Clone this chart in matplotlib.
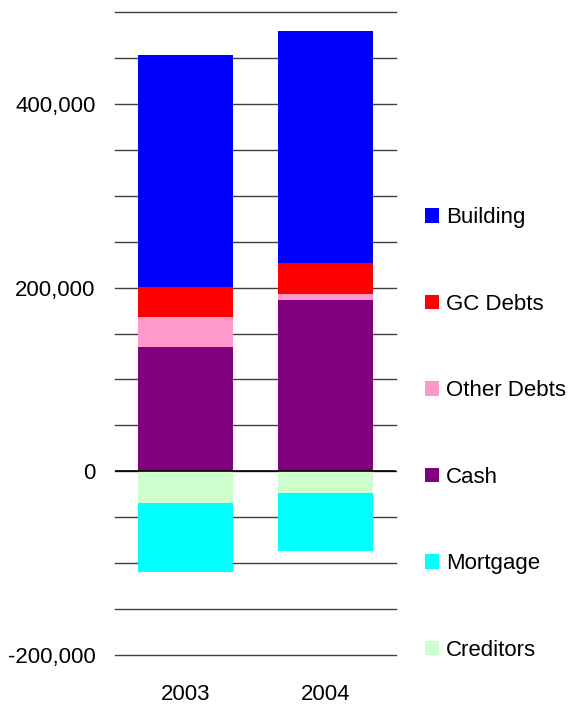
import matplotlib
matplotlib.use('Agg')
import matplotlib.pyplot as plt
import matplotlib.ticker as ticker
import numpy as np

plt.rcParams['font.family'] = ['Liberation Sans', 'DejaVu Sans']

years = ['2003', '2004']
cash = [135000, 187000]
other_debts = [33500, 5500]
gc_debts = [32000, 34000]
building = [253000, 253000]
creditors = [-34000, -23500]
mortgage = [-76000, -63500]

series_pos = [('Cash', cash, '#800080'),
              ('Other Debts', other_debts, '#FF99CC'),
              ('GC Debts', gc_debts, '#FF0000'),
              ('Building', building, '#0000FF')]
series_neg = [('Creditors', creditors, '#CCFFCC'),
              ('Mortgage', mortgage, '#00FFFF')]

fig = plt.figure(figsize=(5.69, 7.05), dpi=100)
ax = fig.add_axes([115 / 569, 1 - 655 / 705, 281 / 569, 643 / 705])

x = np.arange(len(years))
width = 0.674
handles = {}

bottom = np.zeros(len(years))
for name, vals, color in series_pos:
    handles[name] = ax.bar(x, vals, width, bottom=bottom, color=color, zorder=2)
    bottom += np.array(vals)

bottom = np.zeros(len(years))
for name, vals, color in series_neg:
    handles[name] = ax.bar(x, vals, width, bottom=bottom, color=color, zorder=2)
    bottom += np.array(vals)

ax.set_xlim(-0.5, 1.5)
ax.set_ylim(-200000, 500000)
ax.yaxis.set_major_locator(ticker.MultipleLocator(200000))
ax.yaxis.set_minor_locator(ticker.MultipleLocator(50000))
ax.yaxis.set_major_formatter(ticker.FuncFormatter(lambda v, p: f'{int(v):,}'))
ax.grid(True, which='both', axis='y', color='#404040', linewidth=1, zorder=0)
ax.set_axisbelow(True)
for gl in ax.yaxis.get_gridlines():
    gl.set_clip_on(False)
for t in ax.yaxis.get_minor_ticks():
    t.gridline.set_clip_on(False)
ax.axhline(0, color='black', linewidth=1.2, zorder=3)

ax.set_xticks(x)
ax.set_xticklabels(years)
ax.tick_params(axis='both', which='both', length=0, labelsize=16)
ax.tick_params(axis='y', pad=14)
ax.tick_params(axis='x', pad=21)
for s in ax.spines.values():
    s.set_visible(False)

order = ['Building', 'GC Debts', 'Other Debts', 'Cash', 'Mortgage', 'Creditors']
fig.legend([handles[n] for n in order], order, loc='center left',
           bbox_to_anchor=(425 / 569, 1 - 434 / 705), frameon=False,
           fontsize=16, labelspacing=2.95, handlelength=0.64, handleheight=0.64,
           handletextpad=0.3, borderpad=0, borderaxespad=0)

fig.savefig('out.png', dpi=100)
